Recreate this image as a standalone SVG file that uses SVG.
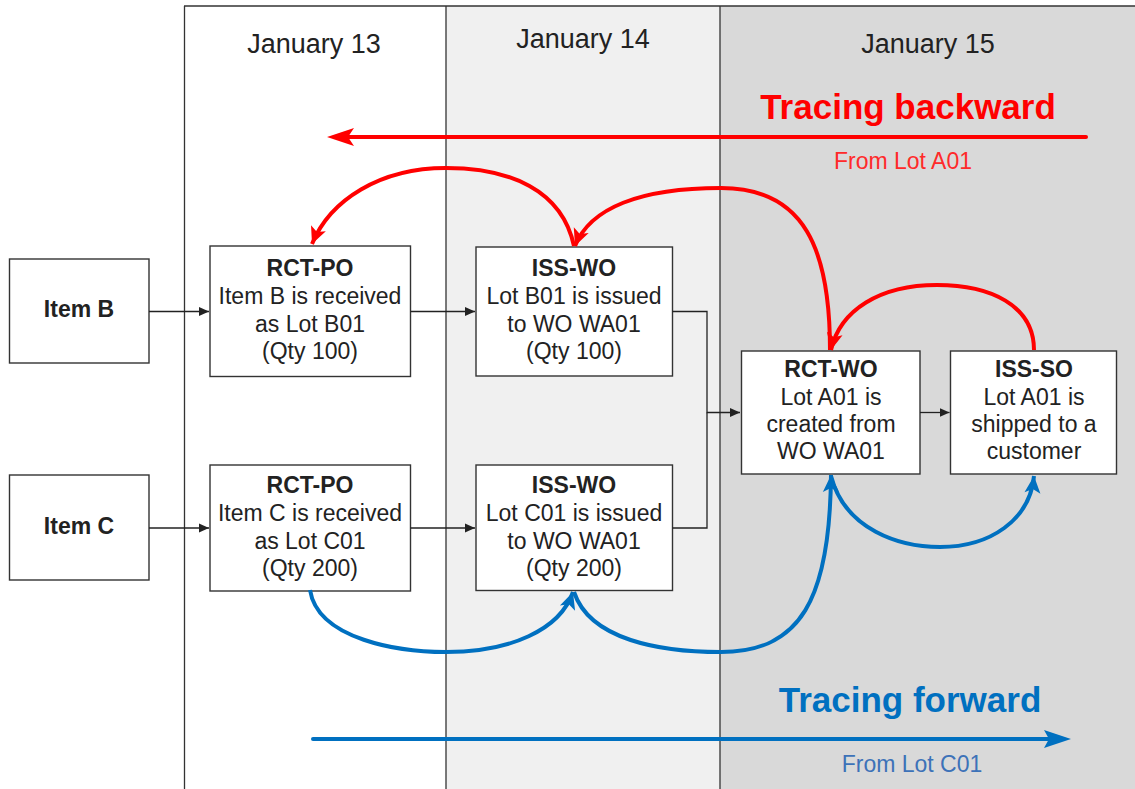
<svg xmlns="http://www.w3.org/2000/svg" width="1135" height="789" viewBox="0 0 1135 789">
<style>
.hdr{font-family:"Liberation Sans",Arial,sans-serif;font-size:27px;fill:#222;text-anchor:middle}
.box{fill:#fff;stroke:#333;stroke-width:1.4}
.t{font-family:"Liberation Sans",Arial,sans-serif;font-size:23px;fill:#222;text-anchor:middle}
.tb{font-weight:bold;font-size:23px}
.con{fill:none;stroke:#222;stroke-width:1.3}
.red{fill:none;stroke:#ff0000;stroke-width:4}
.blue{fill:none;stroke:#0070c0;stroke-width:4}
.col{stroke:#333;stroke-width:1.3}
</style>
<defs>
<marker id="ab" markerUnits="userSpaceOnUse" markerWidth="14" markerHeight="12" refX="10" refY="5" orient="auto" viewBox="0 0 14 12">
<path d="M10,5 L0,0.5 L0,9.5 Z" fill="#222"/>
</marker>
<marker id="ar" markerUnits="userSpaceOnUse" markerWidth="24" markerHeight="20" refX="20" refY="10" orient="auto" viewBox="0 0 24 20">
<path d="M20,10 L3,2 L7,10 L3,18 Z" fill="#ff0000"/>
</marker>
<marker id="abl" markerUnits="userSpaceOnUse" markerWidth="24" markerHeight="20" refX="20" refY="10" orient="auto" viewBox="0 0 24 20">
<path d="M20,10 L3,2 L7,10 L3,18 Z" fill="#0070c0"/>
</marker>
</defs>
<rect width="1135" height="789" fill="#fff"/>
<g id="columns">
<rect x="446" y="6" width="274" height="783" fill="#f0f0f0"/>
<rect x="720" y="6" width="415" height="783" fill="#d9d9d9"/>
<line class="col" x1="184" y1="6" x2="1135" y2="6"/>
<line class="col" x1="184.5" y1="6" x2="184.5" y2="789"/>
<line class="col" x1="446" y1="6" x2="446" y2="789"/>
<line class="col" x1="720" y1="6" x2="720" y2="789"/>
<text class="hdr" x="314" y="53">January 13</text>
<text class="hdr" x="583" y="48">January 14</text>
<text class="hdr" x="928" y="53">January 15</text>
</g>
<g id="legend-backward">
<text x="908" y="119" font-family="Liberation Sans,Arial,sans-serif" font-size="35" font-weight="bold" fill="#ff0000" text-anchor="middle">Tracing backward</text>
<line x1="1086" y1="137" x2="345" y2="137" stroke="#ff0000" stroke-width="4" stroke-linecap="round"/>
<path d="M327,137 L354,128 L348,137 L354,146 Z" fill="#ff0000"/>
<text x="903" y="169" font-family="Liberation Sans,Arial,sans-serif" font-size="23" fill="#ff2a2a" text-anchor="middle">From Lot A01</text>
</g>
<g id="legend-forward">
<text x="910" y="712" font-family="Liberation Sans,Arial,sans-serif" font-size="35" font-weight="bold" fill="#0070c0" text-anchor="middle">Tracing forward</text>
<line x1="313" y1="739" x2="1052" y2="739" stroke="#0070c0" stroke-width="4" stroke-linecap="round"/>
<path d="M1071,739 L1044,730 L1049,739 L1044,748 Z" fill="#0070c0"/>
<text x="912" y="772" font-family="Liberation Sans,Arial,sans-serif" font-size="23" fill="#3d72b8" text-anchor="middle">From Lot C01</text>
</g>
<g id="item-b">
<rect class="box" x="9.5" y="259" width="139.5" height="104"/>
<text class="t tb" x="79" y="317">Item B</text>
</g>
<g id="item-c">
<rect class="box" x="9.5" y="475" width="139.5" height="105"/>
<text class="t tb" x="79" y="534">Item C</text>
</g>
<g id="rct-po-b">
<rect class="box" x="210" y="246" width="200.5" height="130.5"/>
<text class="t tb" x="310" y="276">RCT-PO</text>
<text class="t" x="310" y="304">Item B is received</text>
<text class="t" x="310" y="332">as Lot B01</text>
<text class="t" x="310" y="359">(Qty 100)</text>
</g>
<g id="rct-po-c">
<rect class="box" x="210" y="465" width="200.5" height="126"/>
<text class="t tb" x="310" y="493">RCT-PO</text>
<text class="t" x="310" y="521">Item C is received</text>
<text class="t" x="310" y="549">as Lot C01</text>
<text class="t" x="310" y="576">(Qty 200)</text>
</g>
<g id="iss-wo-b">
<rect class="box" x="476" y="247" width="196.5" height="129"/>
<text class="t tb" x="574" y="276">ISS-WO</text>
<text class="t" x="574" y="304">Lot B01 is issued</text>
<text class="t" x="574" y="332">to WO WA01</text>
<text class="t" x="574" y="359">(Qty 100)</text>
</g>
<g id="iss-wo-c">
<rect class="box" x="476" y="465" width="196.5" height="125.5"/>
<text class="t tb" x="574" y="493">ISS-WO</text>
<text class="t" x="574" y="521">Lot C01 is issued</text>
<text class="t" x="574" y="549">to WO WA01</text>
<text class="t" x="574" y="576">(Qty 200)</text>
</g>
<g id="rct-wo">
<rect class="box" x="741.5" y="351" width="178.5" height="123"/>
<text class="t tb" x="831" y="377">RCT-WO</text>
<text class="t" x="831" y="405">Lot A01 is</text>
<text class="t" x="831" y="432">created from</text>
<text class="t" x="831" y="459">WO WA01</text>
</g>
<g id="iss-so">
<rect class="box" x="950.5" y="351" width="166" height="123"/>
<text class="t tb" x="1034" y="377">ISS-SO</text>
<text class="t" x="1034" y="405">Lot A01 is</text>
<text class="t" x="1034" y="432">shipped to a</text>
<text class="t" x="1034" y="459">customer</text>
</g>
<g id="connectors">
<path class="con" d="M149,311.5 H209" marker-end="url(#ab)"/>
<path class="con" d="M149,528 H209" marker-end="url(#ab)"/>
<path class="con" d="M410.5,311.5 H475" marker-end="url(#ab)"/>
<path class="con" d="M410.5,528 H475" marker-end="url(#ab)"/>
<path class="con" d="M672.5,311.5 H707 V412.5 H740" marker-end="url(#ab)"/>
<path class="con" d="M672.5,528 H707 V412.5"/>
<path class="con" d="M920,412.5 H949.5" marker-end="url(#ab)"/>
<path class="red" d="M574,246 C562,190 510,168 446,168 C380,168 330,200 312,244" marker-end="url(#ar)"/>
<path class="red" d="M830,350 C830,250 805,188 721,188 C640,188 590,208 575,246" marker-end="url(#ar)"/>
<path class="red" d="M1034,350 C1034,305 990,285 937,285 C880,285 840,310 831,350" marker-end="url(#ar)"/>
<path class="blue" d="M310,590 C318,640 400,652 446,652 C510,652 560,630 573,592" marker-end="url(#abl)"/>
<path class="blue" d="M574,592 C590,640 660,652 721,652 C800,652 830,600 831,475" marker-end="url(#abl)"/>
<path class="blue" d="M831,476 C845,530 900,547 940,547 C990,547 1030,520 1034,476" marker-end="url(#abl)"/>
</g>
</svg>
